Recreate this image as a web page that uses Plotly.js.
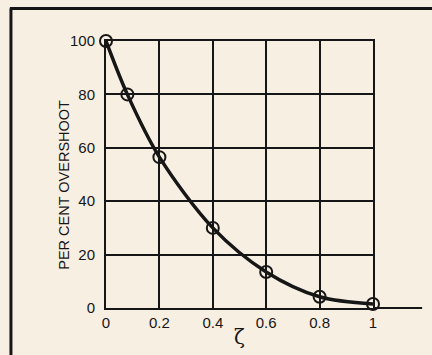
<!DOCTYPE html>
<html>
<head>
<meta charset="utf-8">
<script src="https://cdn.plot.ly/plotly-3.0.1.min.js"></script>
<style>
  html, body { margin: 0; padding: 0; background: #f8efe3; }
  #chart { width: 432px; height: 355px; }
</style>
</head>
<body>
<div id="chart"></div>
<script>
// Data
const zeta = [0, 0.08, 0.2, 0.4, 0.6, 0.8, 1.0];
const overshoot = [100, 80, 56.5, 30, 13.5, 4.2, 1.5];
const xTickVals = [0, 0.2, 0.4, 0.6, 0.8, 1];
const xTickText = ['0', '0.2', '0.4', '0.6', '0.8', '1'];
const yTickVals = [0, 20, 40, 60, 80, 100];
const yTickText = ['0', '20', '40', '60', '80', '100'];

const ink = '#161616';
const bg = '#f8efe3';
const fontFam = 'Liberation Sans, Arial, sans-serif';

const trace = {
  x: zeta,
  y: overshoot,
  type: 'scatter',
  mode: 'lines+markers',
  line: { color: ink, width: 3.5, shape: 'spline', smoothing: 0.9 },
  marker: { symbol: 'circle-open', size: 12, color: ink, line: { width: 2, color: ink } },
  cliponaxis: false,
  hoverinfo: 'skip'
};

const axisCommon = {
  showgrid: true,
  gridcolor: ink,
  gridwidth: 2,
  showline: true,
  linecolor: ink,
  linewidth: 2,
  mirror: true,
  zeroline: false,
  ticks: '',
  tickfont: { family: fontFam, size: 15, color: ink },
  fixedrange: true
};

const layout = {
  width: 432,
  height: 355,
  paper_bgcolor: bg,
  plot_bgcolor: bg,
  margin: { l: 106, r: 59, t: 41, b: 47 },
  showlegend: false,
  xaxis: Object.assign({}, axisCommon, {
    range: [0, 1],
    tickvals: xTickVals,
    ticktext: xTickText,
    ticklabelstandoff: 0,
    title: { text: 'ζ', font: { family: 'DejaVu Serif, serif', size: 20, color: ink }, standoff: 0 }
  }),
  yaxis: Object.assign({}, axisCommon, {
    range: [0, 100],
    tickvals: yTickVals,
    ticktext: yTickText,
    ticklabelstandoff: 6
  }),
  annotations: [{
    text: 'PER CENT OVERSHOOT',
    xref: 'paper', yref: 'paper',
    x: -0.155, y: 0.46,
    xanchor: 'center', yanchor: 'middle',
    textangle: -90,
    showarrow: false,
    font: { family: fontFam, size: 14.5, color: ink }
  }],
  shapes: [
    // x-axis line extending beyond the grid
    { type: 'line', xref: 'paper', yref: 'paper', x0: 1, x1: 1.184, y0: 0, y1: 0,
      line: { color: ink, width: 2 } },
    // page frame: top and left rules
    { type: 'line', xref: 'paper', yref: 'paper', x0: -0.36, x1: 1.25, y0: 1.122, y1: 1.122,
      line: { color: ink, width: 3 } },
    { type: 'line', xref: 'paper', yref: 'paper', x0: -0.356, x1: -0.356, y0: 1.122, y1: -0.18,
      line: { color: ink, width: 3 } }
  ]
};

Plotly.newPlot('chart', [trace], layout, { displayModeBar: false, staticPlot: true });
</script>
</body>
</html>
